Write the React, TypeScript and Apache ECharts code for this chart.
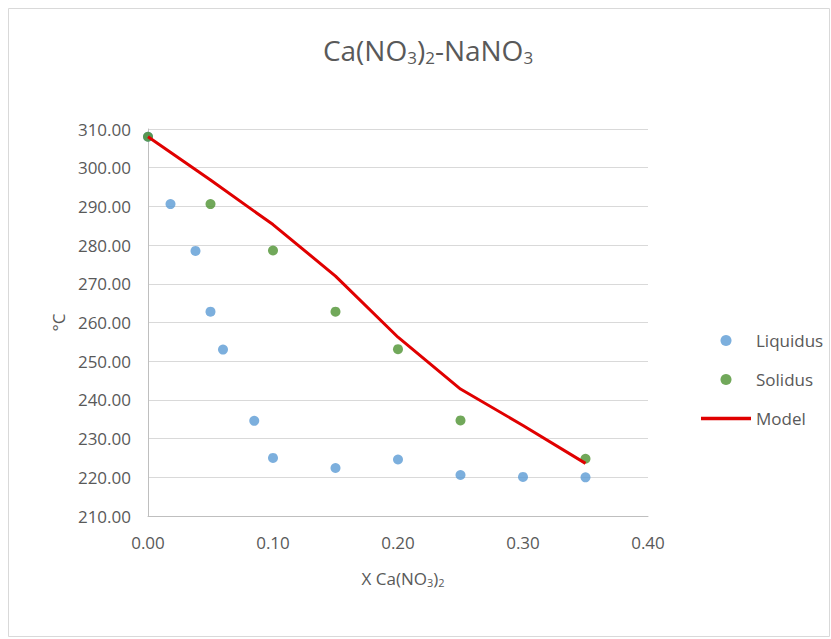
import React, { useEffect, useRef } from "react";
import * as echarts from "echarts";

const liquidusX = [0.0, 0.018, 0.038, 0.05, 0.06, 0.085, 0.1, 0.15, 0.2, 0.25, 0.3, 0.35];
const liquidusY = [308, 290.6, 278.5, 262.8, 253.0, 234.6, 225.0, 222.4, 224.6, 220.6, 220.1, 220.0];
const solidusX = [0.0, 0.05, 0.1, 0.15, 0.2, 0.25, 0.35];
const solidusY = [308, 290.6, 278.6, 262.8, 253.1, 234.7, 224.8];
const modelX = [0.0, 0.05, 0.1, 0.15, 0.2, 0.25, 0.3, 0.35];
const modelY = [308, 296.8, 285.3, 272.0, 256.2, 242.8, 233.4, 223.6];

const FONT = "'Open Sans', 'Liberation Sans', sans-serif";
const GREY = "#595959";

export default function App() {
  const ref = useRef<HTMLDivElement>(null);
  useEffect(() => {
    if (!ref.current) return;
    const chart = echarts.init(ref.current, undefined, { renderer: "svg" });
    chart.setOption({
      animation: false,
      backgroundColor: "#ffffff",
      textStyle: { fontFamily: FONT },
      graphic: [
        {
          type: "rect",
          shape: { x: 8.5, y: 8.5, width: 821, height: 628 },
          style: { fill: "none", stroke: "#d9d9d9", lineWidth: 1 },
          silent: true,
        },
        {
          type: "text",
          x: 428,
          y: 50,
          style: {
            text: "Ca(NO{sub|3}){sub|2}-NaNO{sub|3}",
            align: "center",
            verticalAlign: "middle",
            fontFamily: FONT,
            fontSize: 28,
            fill: GREY,
            rich: { sub: { fontSize: 17, fill: GREY, fontFamily: FONT, padding: [15, 0, 0, 0] } },
          },
        },
        {
          type: "text",
          x: 403,
          y: 578,
          style: {
            text: "X Ca(NO{sub|3}){sub|2}",
            align: "center",
            verticalAlign: "middle",
            fontFamily: FONT,
            fontSize: 17,
            fill: GREY,
            rich: { sub: { fontSize: 11, fill: GREY, fontFamily: FONT, padding: [9, 0, 0, 0] } },
          },
        },
      ],
      grid: { left: 148, right: 183, top: 129, bottom: 123, containLabel: false },
      xAxis: {
        type: "value",
        min: 0,
        max: 0.4,
        interval: 0.1,
        axisLine: { show: true, lineStyle: { color: "#bfbfbf" } },
        axisTick: { show: false },
        splitLine: { show: false },
        axisLabel: {
          color: GREY,
          fontSize: 17,
          fontFamily: FONT,
          margin: 18,
          formatter: (v: number) => v.toFixed(2),
        },
      },
      yAxis: {
        type: "value",
        min: 210,
        max: 310,
        interval: 10,
        name: "°C",
        nameLocation: "middle",
        nameGap: 80,
        nameRotate: 90,
        nameTextStyle: { color: GREY, fontSize: 17, fontFamily: FONT },
        axisLine: { show: true, lineStyle: { color: "#bfbfbf" } },
        axisTick: { show: false },
        splitLine: { show: true, lineStyle: { color: "#d9d9d9" } },
        axisLabel: {
          color: GREY,
          fontSize: 17,
          fontFamily: FONT,
          margin: 17,
          formatter: (v: number) => v.toFixed(2),
        },
      },
      legend: {
        orient: "vertical",
        left: 696,
        top: 327,
        itemWidth: 50,
        itemHeight: 11,
        itemGap: 22,
        symbolKeepAspect: true,
        textStyle: { color: GREY, fontSize: 17, fontFamily: FONT },
        data: [
          "Liquidus",
          "Solidus",
          {
            name: "Model",
            icon: "path://M0,0 L50,0 L50,3.5 L0,3.5 Z",
            itemStyle: { color: "#e00000" },
          },
        ],
      },
      series: [
        {
          name: "Liquidus",
          type: "scatter",
          symbol: "circle",
          symbolSize: 10,
          itemStyle: { color: "#5b9bd5" },
          data: liquidusX.map((x, i) => [x, liquidusY[i]]),
          z: 2,
        },
        {
          name: "Solidus",
          type: "scatter",
          symbol: "circle",
          symbolSize: 10,
          itemStyle: { color: "#4e9231" },
          data: solidusX.map((x, i) => [x, solidusY[i]]),
          z: 3,
        },
        {
          name: "Model",
          type: "line",
          symbol: "none",
          lineStyle: { color: "#e00000", width: 3 },
          itemStyle: { color: "#e00000" },
          data: modelX.map((x, i) => [x, modelY[i]]),
          z: 4,
        },
      ],
    });
    return () => chart.dispose();
  }, []);
  return (
    <div
      ref={ref}
      style={{ position: "absolute", left: 0, top: 0, width: 831, height: 639 }}
    />
  );
}
